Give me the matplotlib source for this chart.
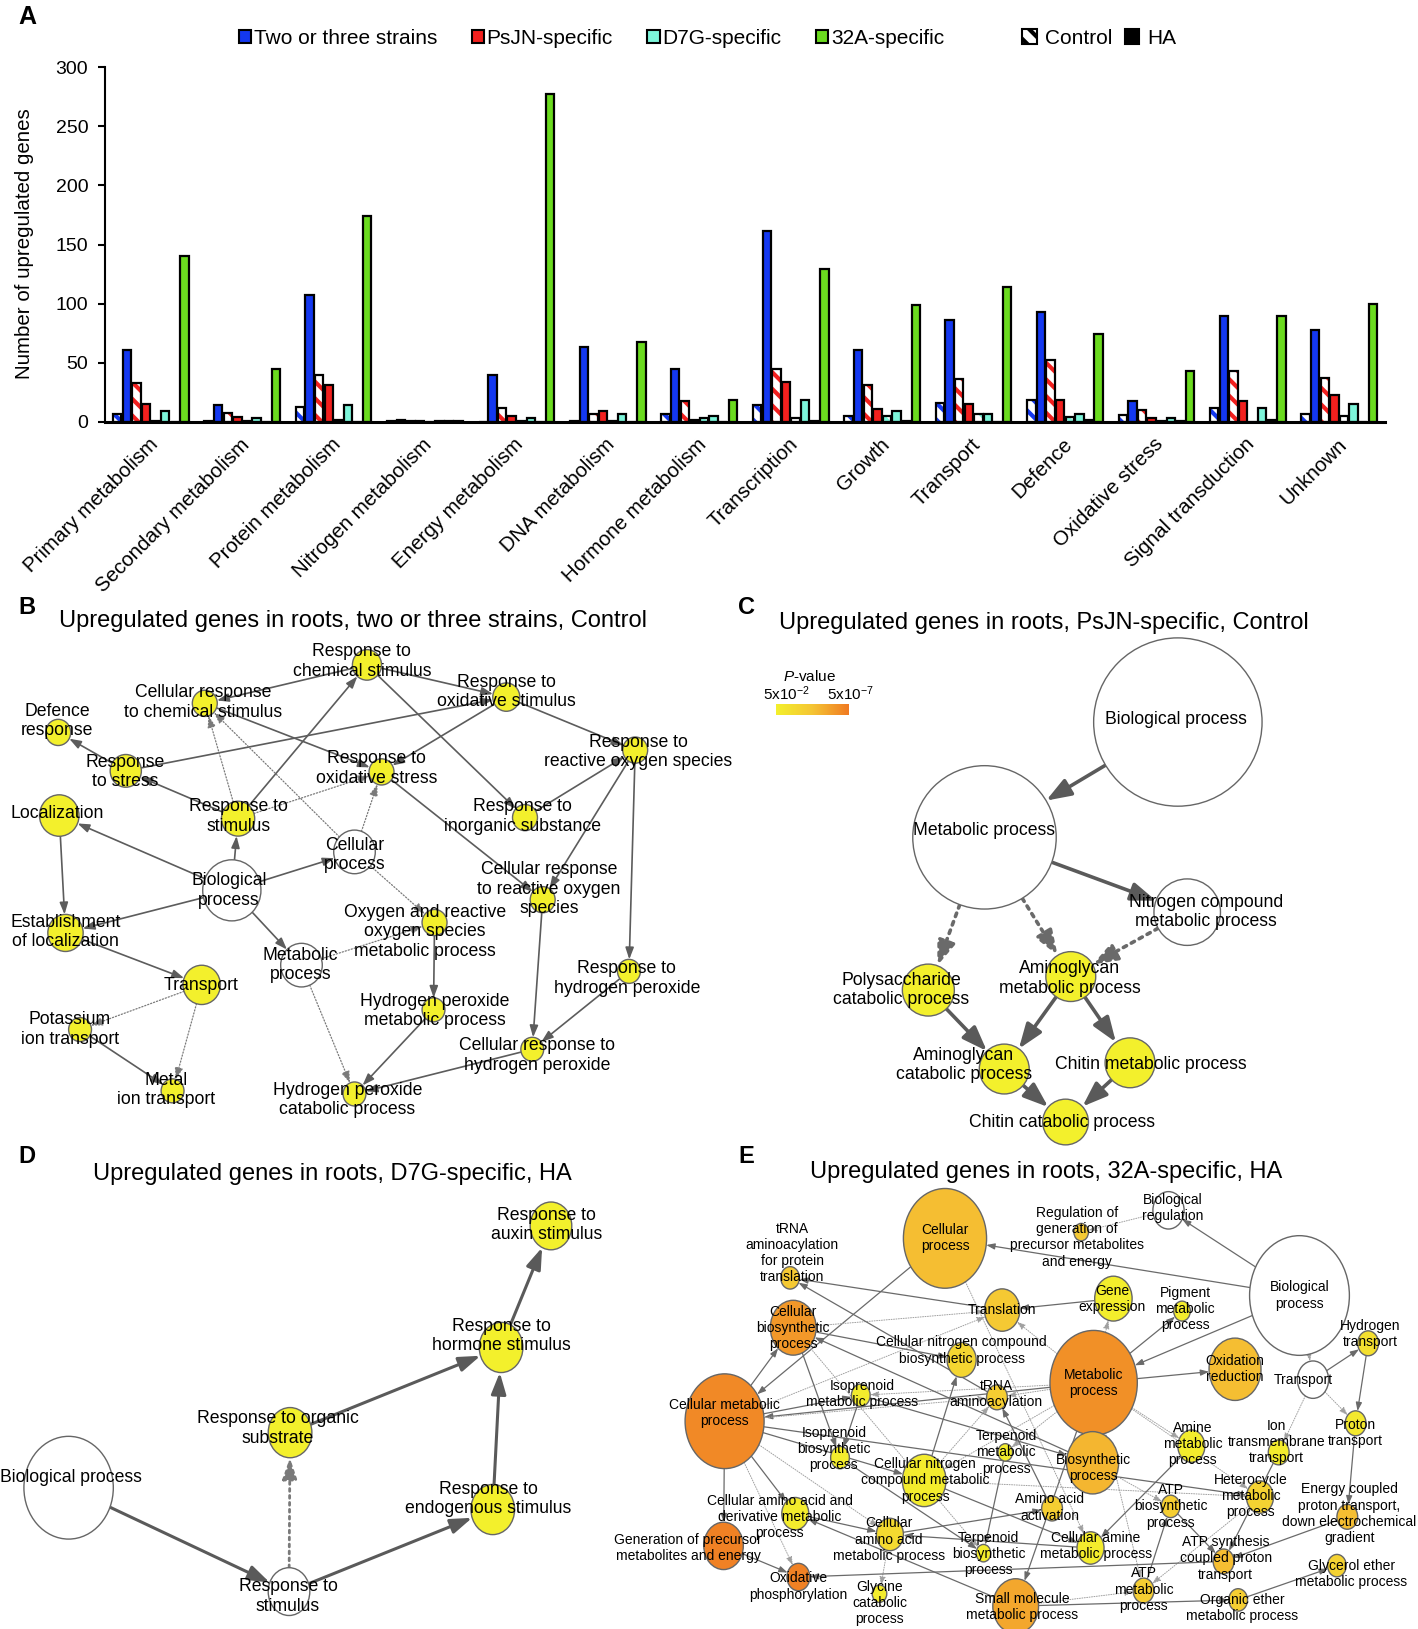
import numpy as np
import matplotlib
matplotlib.use('Agg')
import matplotlib.pyplot as plt
from matplotlib.patches import Ellipse, FancyArrowPatch, Patch
from matplotlib.colors import LinearSegmentedColormap

plt.rcParams['font.family'] = ['Liberation Sans', 'DejaVu Sans']
plt.rcParams['mathtext.fontset'] = 'custom'
plt.rcParams['mathtext.rm'] = 'Liberation Sans'
plt.rcParams['mathtext.it'] = 'Liberation Sans:italic'
plt.rcParams['hatch.linewidth'] = 3.0

# ---------------- panel A data ----------------
categories = ['Primary metabolism', 'Secondary metabolism', 'Protein metabolism',
              'Nitrogen metabolism', 'Energy metabolism', 'DNA metabolism',
              'Hormone metabolism', 'Transcription', 'Growth', 'Transport',
              'Defence', 'Oxidative stress', 'Signal transduction', 'Unknown']
strains = ['Two or three strains', 'PsJN-specific', 'D7G-specific', '32A-specific']
two_ctrl = [7, 1, 13, 1, 0, 1, 7, 14, 5, 16, 19, 6, 12, 7]
two_ha = [61, 14, 107, 2, 40, 63, 45, 161, 61, 86, 93, 18, 90, 78]
psjn_ctrl = [33, 8, 40, 1, 12, 7, 18, 45, 31, 36, 52, 10, 43, 37]
psjn_ha = [15, 4, 31, 1, 5, 9, 2, 34, 11, 15, 19, 3, 18, 23]
d7g_ctrl = [1, 1, 2, 0, 1, 1, 3, 3, 5, 7, 4, 1, 0, 5]
d7g_ha = [9, 3, 14, 1, 3, 7, 5, 19, 9, 7, 7, 3, 12, 15]
a32_ctrl = [0, 0, 0, 1, 0, 0, 0, 1, 1, 0, 2, 1, 2, 0]
a32_ha = [140, 45, 174, 1, 277, 68, 19, 129, 99, 114, 74, 43, 90, 100]
colors = ['#1438f0', '#f2201e', '#7df5da', '#6bdb1f']

# ---------------- network data (key, label, x, y, r, level, label x, label y) ----------------
# level: None = white (not significant), 0 = yellow ... 1 = orange
nodes_b = [
    ('chem', 'Response to\nchemical stimulus', 353, 640, 14, 0, 348, 637),
    ('cellchem', 'Cellular response\nto chemical stimulus', 197, 677, 12, 0, 195, 676),
    ('oxstim', 'Response to\noxidative stimulus', 487, 671, 13, 0, 487, 666),
    ('defence', 'Defence\nresponse', 56, 705, 12, 0, 55, 694),
    ('stress', 'Response\nto stress', 121, 742, 15, 0, 120, 743),
    ('oxstress', 'Response to\noxidative stress', 367, 743, 12, 0, 362, 740),
    ('ros', 'Response to\nreactive oxygen species', 611, 722, 12, 0, 614, 724),
    ('local', 'Localization', 57, 785, 19, 0, 55, 783),
    ('stim', 'Response to\nstimulus', 229, 788, 16, 0, 229, 786),
    ('inorg', 'Response to\ninorganic substance', 505, 787, 12, 0, 503, 786),
    ('cellproc', 'Cellular\nprocess', 341, 820, 20, None, 341, 823),
    ('bio', 'Biological\nprocess', 223, 857, 28, None, 220, 857),
    ('cellros', 'Cellular response\nto reactive oxygen\nspecies', 522, 866, 12, 0, 528, 856),
    ('oxyros', 'Oxygen and reactive\noxygen species\nmetabolic process', 418, 888, 12, 0, 409, 897),
    ('estab', 'Establishment\nof localization', 63, 898, 17, 0, 63, 897),
    ('meta', 'Metabolic\nprocess', 290, 929, 20, None, 289, 929),
    ('transport', 'Transport', 194, 948, 18, 0, 193, 949),
    ('h2o2', 'Response to\nhydrogen peroxide', 605, 935, 11, 0, 603, 942),
    ('h2o2meta', 'Hydrogen peroxide\nmetabolic process', 417, 972, 11, 0, 418, 973),
    ('potass', 'Potassium\nion transport', 77, 991, 11, 0, 67, 991),
    ('cellh2o2', 'Cellular response to\nhydrogen peroxide', 512, 1010, 11, 0, 517, 1016),
    ('metal', 'Metal\nion transport', 166, 1050, 11, 0, 160, 1049),
    ('h2o2cat', 'Hydrogen peroxide\ncatabolic process', 341, 1053, 11, 0, 334, 1059),
]
edges_b = [
    ('stim', 'chem', 0), ('chem', 'cellchem', 0), ('chem', 'oxstim', 0), ('chem', 'inorg', 0),
    ('oxstim', 'ros', 0), ('oxstim', 'oxstress', 0), ('stress', 'oxstim', 0), ('stress', 'defence', 0),
    ('stim', 'stress', 0), ('cellchem', 'oxstress', 0), ('stim', 'cellchem', 1), ('cellproc', 'cellchem', 1),
    ('stim', 'oxstress', 1), ('cellproc', 'oxstress', 1), ('bio', 'stim', 0), ('bio', 'local', 0),
    ('bio', 'cellproc', 0), ('bio', 'estab', 0), ('bio', 'meta', 0), ('local', 'estab', 0),
    ('estab', 'transport', 0), ('transport', 'potass', 1), ('transport', 'metal', 1), ('potass', 'metal', 0),
    ('cellproc', 'oxyros', 1), ('meta', 'oxyros', 1), ('meta', 'h2o2cat', 1), ('oxyros', 'h2o2meta', 0),
    ('h2o2meta', 'h2o2cat', 0), ('oxstress', 'cellros', 0), ('inorg', 'ros', 0), ('ros', 'cellros', 0),
    ('ros', 'h2o2', 0), ('cellros', 'cellh2o2', 0), ('h2o2', 'cellh2o2', 0), ('cellh2o2', 'h2o2cat', 0),
]

nodes_c = [
    ('bio', 'Biological process', 1133, 695, 81, None, 1131, 693),
    ('meta', 'Metabolic process', 947, 806, 69, None, 947, 799),
    ('nitro', 'Nitrogen compound\nmetabolic process', 1142, 878, 32, None, 1160, 878),
    ('poly', 'Polysaccharide\ncatabolic process', 893, 953, 25, 0, 867, 953),
    ('amgmeta', 'Aminoglycan\nmetabolic process', 1030, 940, 24, 0, 1029, 942),
    ('amgcat', 'Aminoglycan\ncatabolic process', 966, 1029, 24, 0, 927, 1025),
    ('chitmeta', 'Chitin metabolic process', 1087, 1023, 24, 0, 1107, 1025),
    ('chitcat', 'Chitin catabolic process', 1025, 1080, 22, 0, 1022, 1080),
]
edges_c = [
    ('bio', 'meta', 0), ('meta', 'nitro', 0), ('meta', 'poly', 1), ('meta', 'amgmeta', 1),
    ('nitro', 'amgmeta', 1), ('poly', 'amgcat', 0), ('amgmeta', 'amgcat', 0),
    ('amgmeta', 'chitmeta', 0), ('amgcat', 'chitcat', 0), ('chitmeta', 'chitcat', 0),
]

nodes_d = [
    ('bio', 'Biological process', 66, 1432, 43, None, 68, 1422),
    ('stim', 'Response to\nstimulus', 278, 1532, 20, None, 277, 1537),
    ('org', 'Response to organic\nsubstrate', 279, 1379, 21, 0, 267, 1375),
    ('horm', 'Response to\nhormone stimulus', 482, 1297, 21, 0, 482, 1286),
    ('endo', 'Response to\nendogenous stimulus', 474, 1453, 21, 0, 470, 1443),
    ('auxin', 'Response to\nauxin stimulus', 530, 1180, 20, 0, 526, 1179),
]
edges_d = [
    ('bio', 'stim', 0), ('stim', 'org', 1), ('stim', 'endo', 0), ('org', 'horm', 0),
    ('endo', 'horm', 0), ('horm', 'auxin', 0),
]

nodes_e = [
    ('cellproc', 'Cellular\nprocess', 909, 1192, 40, 0.55, 909, 1192),
    ('bioreg', 'Biological\nregulation', 1124, 1165, 15, None, 1128, 1163),
    ('reggen', 'Regulation of\ngeneration of\nprecursor metabolites\nand energy', 1040, 1186, 7, 0.45, 1036, 1191),
    ('bio', 'Biological\nprocess', 1250, 1247, 48, None, 1250, 1247),
    ('trnaprot', 'tRNA\naminoacylation\nfor protein\ntranslation', 760, 1230, 9, 0.45, 762, 1206),
    ('transl', 'Translation', 964, 1261, 17, 0.45, 964, 1261),
    ('gene', 'Gene\nexpression', 1071, 1250, 18, 0.02, 1070, 1250),
    ('pigment', 'Pigment\nmetabolic\nprocess', 1137, 1262, 8, 0.05, 1140, 1260),
    ('cellbio', 'Cellular\nbiosynthetic\nprocess', 763, 1278, 22, 0.8, 763, 1278),
    ('hydro', 'Hydrogen\ntransport', 1316, 1293, 10, 0.2, 1318, 1284),
    ('cnbio', 'Cellular nitrogen compound\nbiosynthetic process', 925, 1309, 14, 0.3, 925, 1300),
    ('meta', 'Metabolic\nprocess', 1052, 1331, 42, 0.85, 1052, 1331),
    ('oxred', 'Oxidation\nreduction', 1188, 1318, 25, 0.55, 1188, 1318),
    ('transport', 'Transport', 1263, 1328, 15, None, 1254, 1328),
    ('cellmeta', 'Cellular metabolic\nprocess', 697, 1368, 38, 0.9, 697, 1360),
    ('isomet', 'Isoprenoid\nmetabolic process', 828, 1343, 9, 0.05, 829, 1342),
    ('trna', 'tRNA\naminoacylation', 959, 1345, 10, 0.4, 958, 1342),
    ('proton', 'Proton\ntransport', 1304, 1370, 10, 0.1, 1304, 1379),
    ('amine', 'Amine\nmetabolic\nprocess', 1146, 1392, 13, 0.05, 1147, 1390),
    ('ion', 'Ion\ntransmembrane\ntransport', 1230, 1398, 10, 0.05, 1228, 1388),
    ('isobio', 'Isoprenoid\nbiosynthetic\nprocess', 808, 1403, 9, 0.05, 802, 1395),
    ('terpmet', 'Terpenoid\nmetabolic\nprocess', 967, 1398, 7, 0.05, 968, 1398),
    ('biosyn', 'Biosynthetic\nprocess', 1051, 1408, 25, 0.6, 1052, 1413),
    ('cnmeta', 'Cellular nitrogen\ncompound metabolic\nprocess', 889, 1425, 21, 0.05, 890, 1425),
    ('atpbio', 'ATP\nbiosynthetic\nprocess', 1126, 1450, 9, 0.4, 1126, 1450),
    ('hetero', 'Heterocycle\nmetabolic\nprocess', 1212, 1441, 13, 0.35, 1203, 1440),
    ('energy', 'Energy coupled\nproton transport,\ndown electrochemical\ngradient', 1296, 1460, 10, 0.55, 1298, 1457),
    ('aaderiv', 'Cellular amino acid and\nderivative metabolic\nprocess', 765, 1457, 13, 0.05, 750, 1460),
    ('aaact', 'Amino acid\nactivation', 1012, 1452, 10, 0.4, 1010, 1451),
    ('genprec', 'Generation of precursor\nmetabolites and energy', 696, 1488, 19, 0.95, 662, 1490),
    ('aameta', 'Cellular\namino acid\nmetabolic process', 856, 1477, 13, 0.25, 855, 1482),
    ('terpbio', 'Terpenoid\nbiosynthetic\nprocess', 946, 1495, 7, 0.05, 951, 1496),
    ('amcell', 'Cellular amine\nmetabolic process', 1049, 1490, 13, 0.05, 1054, 1488),
    ('atpsyn', 'ATP synthesis\ncoupled proton\ntransport', 1177, 1503, 10, 0.55, 1179, 1500),
    ('glycerol', 'Glycerol ether\nmetabolic process', 1286, 1507, 9, 0.35, 1300, 1515),
    ('oxphos', 'Oxidative\nphosphorylation', 768, 1518, 11, 0.95, 768, 1527),
    ('glycine', 'Glycine\ncatabolic\nprocess', 846, 1534, 7, 0.05, 846, 1543),
    ('atpmet', 'ATP\nmetabolic\nprocess', 1100, 1531, 10, 0.4, 1100, 1530),
    ('small', 'Small molecule\nmetabolic process', 977, 1546, 22, 0.7, 983, 1547),
    ('ether', 'Organic ether\nmetabolic process', 1191, 1540, 9, 0.4, 1195, 1548),
]
edges_e = [
    ('bio', 'cellproc', 0), ('bio', 'bioreg', 0), ('bio', 'meta', 0), ('bio', 'transport', 1),
    ('bioreg', 'reggen', 1), ('cellproc', 'cellmeta', 0), ('cellproc', 'amcell', 1),
    ('gene', 'transl', 0), ('transl', 'trnaprot', 0),
    ('meta', 'gene', 1), ('meta', 'transl', 1), ('meta', 'pigment', 0), ('meta', 'oxred', 0),
    ('meta', 'cellmeta', 0), ('meta', 'isomet', 1), ('meta', 'biosyn', 0), ('meta', 'small', 0),
    ('meta', 'amine', 1), ('meta', 'hetero', 1), ('meta', 'trna', 1), ('meta', 'terpmet', 1),
    ('meta', 'cnmeta', 1), ('meta', 'atpmet', 1),
    ('cellmeta', 'cellbio', 0), ('cellmeta', 'genprec', 0), ('cellmeta', 'isomet', 0),
    ('cellmeta', 'aaderiv', 0), ('cellmeta', 'hetero', 0), ('cellmeta', 'cnmeta', 0),
    ('cellmeta', 'oxphos', 1), ('cellmeta', 'transl', 1), ('cellmeta', 'trna', 1), ('cellmeta', 'aameta', 1),
    ('cellbio', 'isobio', 0), ('cellbio', 'cnbio', 0), ('biosyn', 'cellbio', 0), ('cellbio', 'transl', 1),
    ('cellbio', 'terpbio', 1), ('isomet', 'isobio', 0), ('isomet', 'biosyn', 0), ('terpmet', 'terpbio', 0),
    ('isobio', 'terpbio', 0), ('cnmeta', 'cnbio', 0), ('cnmeta', 'amcell', 0), ('cnmeta', 'hetero', 1),
    ('cnmeta', 'trna', 1), ('trna', 'trnaprot', 0), ('aaact', 'trna', 0), ('aaderiv', 'aameta', 0),
    ('aameta', 'glycine', 1), ('aameta', 'aaact', 0), ('amcell', 'aameta', 0), ('small', 'aaderiv', 0),
    ('small', 'atpmet', 1), ('small', 'ether', 0), ('amine', 'amcell', 0), ('atpmet', 'atpbio', 0),
    ('atpbio', 'atpsyn', 0), ('biosyn', 'atpbio', 1), ('hetero', 'atpmet', 1), ('transport', 'hydro', 0),
    ('transport', 'proton', 1), ('transport', 'ion', 1), ('hydro', 'proton', 0), ('ion', 'atpsyn', 0),
    ('proton', 'energy', 0), ('energy', 'atpsyn', 0), ('genprec', 'oxphos', 0), ('atpsyn', 'oxphos', 0),
    ('ether', 'glycerol', 0),
]

# ---------------- figure ----------------
W, H = 1418, 1629
fig = plt.figure(figsize=(W / 100, H / 100), dpi=100)

# panel A: grouped bars
ax = fig.add_axes([105 / W, 1 - 422 / H, (1385 - 105) / W, (422 - 67) / H])
x = np.arange(len(categories))
pitch, width = 0.105, 0.092
series = [(two_ctrl, two_ha), (psjn_ctrl, psjn_ha), (d7g_ctrl, d7g_ha), (a32_ctrl, a32_ha)]
for i, (ctrl, ha) in enumerate(series):
    xc = x + 0.08 + pitch * (2 * i + 0.5)
    xh = x + 0.08 + pitch * (2 * i + 1.5)
    ax.bar(xc, ctrl, width, color='white', edgecolor=colors[i], hatch='\\\\', linewidth=0)
    ax.bar(xc, ctrl, width, fill=False, edgecolor='black', linewidth=1.6)
    ax.bar(xh, ha, width, color=colors[i], edgecolor='black', linewidth=1.6)
ax.set_xlim(0, len(categories))
ax.set_ylim(0, 300)
ax.set_yticks(range(0, 301, 50))
ax.tick_params(axis='y', labelsize=14, length=5, width=1.5, pad=7)
ax.set_xticks(x + 0.545)
ax.set_xticklabels(categories, rotation=45, ha='right', va='center',
                   rotation_mode='anchor', fontsize=14.8)
ax.tick_params(axis='x', length=0, pad=14)
ax.spines['top'].set_visible(False)
ax.spines['right'].set_visible(False)
ax.spines['left'].set_linewidth(1.5)
ax.spines['bottom'].set_linewidth(2.2)
fig.text(25 / W, 1 - 244 / H, 'Number of upregulated genes', rotation=90,
         ha='center', va='center', fontsize=14.8)
fig.text(18 / W, 1 - 17 / H, 'A', fontsize=18, fontweight='bold', ha='left', va='center')

h1 = [Patch(facecolor=c, edgecolor='black', linewidth=1.5) for c in colors]
fig.legend(h1, strains, loc='center left', bbox_to_anchor=(239 / W, 1 - 38 / H), ncol=4,
           frameon=False, fontsize=15, handlelength=0.6, handleheight=0.6,
           handletextpad=0.12, columnspacing=1.65, borderpad=0, borderaxespad=0)
h2 = [Patch(facecolor='white', edgecolor='black', hatch='\\\\', linewidth=1.5),
      Patch(facecolor='black', edgecolor='black', linewidth=1.5)]
fig.legend(h2, ['Control', 'HA'], loc='center left', bbox_to_anchor=(1022 / W, 1 - 38 / H),
           ncol=2, frameon=False, fontsize=15, handlelength=0.7, handleheight=0.7,
           handletextpad=0.4, columnspacing=0.6, borderpad=0, borderaxespad=0)

# panels B-E: networks drawn on one overlay axes in picture coordinates
net = fig.add_axes([0, 0, 1, 1])
net.axis('off')
pcmap = LinearSegmentedColormap.from_list('pv', ['#f3f02c', '#f5c534', '#f07a22'])


def draw_network(nodes, edges, aspect, fs, lw, hl, hw, dot_lw, ecol='#5c5c5c', dcol='#7a7a7a'):
    pos = {n[0]: n[2:5] for n in nodes}
    for a, b, dotted in edges:
        xa, ya, ra = pos[a]
        xb, yb, rb = pos[b]
        dx, dy = xb - xa, yb - ya
        d = np.hypot(dx, dy)
        ux, uy = dx / d, dy / d
        sa = 1 / np.hypot(ux / ra, uy / (ra * aspect))
        sb = 1 / np.hypot(ux / rb, uy / (rb * aspect))
        p0 = (xa + ux * sa, ya + uy * sa)
        p1 = (xb - ux * sb, yb - uy * sb)
        style = f'-|>,head_length={hl},head_width={hw}'
        if dotted:
            arr = FancyArrowPatch(p0, p1, arrowstyle=style, mutation_scale=1, shrinkA=0,
                                  shrinkB=0, lw=dot_lw, linestyle=(0, (1, 1.5)), color=dcol, zorder=2)
        else:
            arr = FancyArrowPatch(p0, p1, arrowstyle=style, mutation_scale=1, shrinkA=0,
                                  shrinkB=0, lw=lw, color=ecol, zorder=2)
        net.add_patch(arr)
    for key, label, xn, yn, r, lev, lx, ly in nodes:
        fc = 'white' if lev is None else pcmap(lev)
        net.add_patch(Ellipse((xn, yn), 2 * r, 2 * r * aspect, facecolor=fc,
                              edgecolor='#666666', lw=1.0, zorder=3))
        net.text(lx, ly, label, ha='center', va='center', fontsize=fs, zorder=5, linespacing=1.2)


draw_network(nodes_b, edges_b, 1.05, 12.7, 1.2, 7, 2.5, 0.9)
draw_network(nodes_c, edges_c, 1.0, 12.7, 2.6, 15, 5.5, 2.6, ecol='#5a5a5a', dcol='#6a6a6a')
draw_network(nodes_d, edges_d, 1.15, 12.7, 2.2, 13, 4.5, 2.0, ecol='#5a5a5a', dcol='#7a7a7a')
draw_network(nodes_e, edges_e, 1.2, 10.0, 0.9, 5, 1.8, 0.7, ecol='#6a6a6a', dcol='#a0a0a0')

titles = [('B', 18, 585, 'Upregulated genes in roots, two or three strains, Control', 340, 598),
          ('C', 710, 585, 'Upregulated genes in roots, PsJN-specific, Control', 1004, 600),
          ('D', 18, 1113, 'Upregulated genes in roots, D7G-specific, HA', 320, 1130),
          ('E', 710, 1113, 'Upregulated genes in roots, 32A-specific, HA', 1006, 1128)]
for letter, lxp, lyp, title, tx, ty in titles:
    net.text(lxp, lyp, letter, fontsize=17, fontweight='bold', ha='left', va='center')
    net.text(tx, ty, title, fontsize=17, ha='center', va='center')

# P-value colour key in panel C
grad = np.linspace(0, 1, 256)[None, :]
net.imshow(grad, extent=(746, 816, 688, 678), cmap=pcmap, aspect='auto', zorder=3)
net.text(779, 651, '$P$-value', fontsize=11, ha='center', va='center')
net.text(756, 668, '5x10$^{-2}$', fontsize=11, ha='center', va='center')
net.text(818, 668, '5x10$^{-7}$', fontsize=11, ha='center', va='center')

net.set_xlim(0, 1364)
net.set_ylim(1568, 0)

fig.savefig('out.png', dpi=100)
